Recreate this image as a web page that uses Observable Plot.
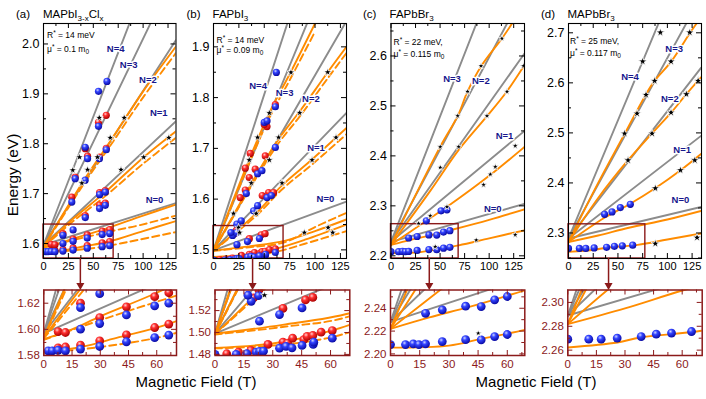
<!DOCTYPE html>
<html><head><meta charset="utf-8">
<script src="https://cdn.jsdelivr.net/npm/d3@7"></script>
<script src="https://cdn.jsdelivr.net/npm/@observablehq/plot@0.6"></script>
<style>
body{margin:0;background:#fff}
#c{position:relative;width:706px;height:399px;overflow:hidden;background:#fff}
#c svg{position:absolute;left:0;top:0}
</style></head><body>
<svg width="0" height="0" style="position:absolute"><defs>
<radialGradient id="gB" cx="0.38" cy="0.32" r="0.7"><stop offset="0" stop-color="#d0d6ff"/><stop offset="0.35" stop-color="#3344ff"/><stop offset="1" stop-color="#0808a0"/></radialGradient>
<radialGradient id="gR" cx="0.38" cy="0.32" r="0.7"><stop offset="0" stop-color="#ffd0d0"/><stop offset="0.35" stop-color="#ff3030"/><stop offset="1" stop-color="#a80000"/></radialGradient>
</defs></svg>
<div id="c"></div>
<script>
// ---------- shared ticks ----------
const topXMaj = [0,25,50,75,100,125];
const topXMin = [12.5,37.5,62.5,87.5,112.5];
const insXMaj = [0,15,30,45,60];
const insXMin = [7.5,22.5,37.5,52.5,67.5];

// ---------- panel (a) MAPbI3-xClx ----------
const aGray = [
 [[0,1.597],[133,1.681]],
 [[0,1.597],[133,1.845]],
 [[0,1.597],[133,2.008]],
 [[0,1.597],[110,2.052]],
 [[0,1.597],[90,2.06]]
];
const aSolid = [
 [[0,1.5828],[20,1.5865],[40,1.594],[66,1.604],[100,1.625],[133,1.645]],
 [[0,1.5925],[15,1.600],[30,1.610],[60,1.628],[100,1.656],[133,1.678]],
 [[0,1.594],[30,1.65],[62,1.703],[100,1.772],[133,1.825]],
 [[0,1.594],[40,1.725],[67,1.805],[100,1.905],[133,1.995]]
];
const aDashed = [
 [[0,1.582],[30,1.5865],[60,1.5935],[77,1.600],[133,1.623]],
 [[0,1.592],[30,1.607],[70,1.6256],[97,1.637],[133,1.656]],
 [[0,1.593],[30,1.645],[62,1.695],[100,1.760],[133,1.812]],
 [[0,1.593],[40,1.718],[67,1.796],[100,1.893],[133,1.982]]
];
const aRed = [[7.6,1.5858],[11.5,1.5865],[19.5,1.588],[29.7,1.5912],[43.9,1.5958],[58.9,1.6014],[66.4,1.604],
 [7.6,1.5983],[11.5,1.5976],[29.7,1.609],[43.9,1.6172],[58.9,1.625],[66.4,1.628],[19.5,1.620],
 [41.9,1.656],[56.3,1.677],[62,1.681],[28.4,1.693],[56.3,1.702],[62,1.706],[31.8,1.733],[44.2,1.775],
 [56.1,1.773],[41.9,1.790],[63,1.791],[55.2,1.843],[63,1.857]];
const aBlue = [[2.3,1.5836],[4.5,1.5836],[7.6,1.584],[11.5,1.5836],[19.5,1.5849],[29.7,1.5869],[43.9,1.5905],[58.9,1.5937],[66.4,1.5956],
 [19.5,1.6001],[29.7,1.6044],[43.9,1.611],[58.9,1.618],[66.4,1.620],[19.5,1.6166],[29.7,1.6273],
 [41.9,1.652],[56.3,1.670],[62,1.6766],[28.4,1.683],[56.3,1.698],[62,1.703],[41.8,1.727],[31.8,1.730],
 [44.2,1.770],[56.1,1.770],[41.9,1.793],[63,1.788],[55.2,1.835],[55.2,1.905],[63.7,1.925]];
const aStar = [[56,1.852],[81,1.852],[67,1.812],[125.8,1.812],[36.1,1.773],[54.2,1.773],[100.6,1.773],
 [29.4,1.747],[44.2,1.748],[77.8,1.748],[38.5,1.721]];
const aLabels = [[72.4,1.99,"N=4"],[85.5,1.957,"N=3"],[104.8,1.927,"N=2"],[115.7,1.862,"N=1"],[111.4,1.687,"N=0"]];
const aBox = [0,70.4,1.57,1.638];
const aArrow = 37;
const aYMaj = [1.6,1.7,1.8,1.9,2.0], aYMin = [1.65,1.75,1.85,1.95];
const aIYMaj = [1.58,1.60,1.62], aIYMin = [1.59,1.61];

// ---------- panel (b) FAPbI3 ----------
const bGray = [
 [[0,1.499],[131,1.595]],
 [[0,1.499],[131,1.77]],
 [[0,1.499],[131,1.951]],
 [[0,1.499],[95,1.96]],
 [[0,1.499],[75,1.96]]
];
const bSolid = [
 [[0,1.486],[30,1.490],[60,1.5015],[90,1.52],[131,1.55]],
 [[0,1.4988],[35,1.507],[70,1.5176],[100,1.537],[131,1.56]],
 [[0,1.4985],[42,1.572],[68,1.628],[97,1.678],[131,1.74]],
 [[0,1.4985],[20,1.570],[37,1.630],[64,1.718],[85,1.773],[112.5,1.85],[131,1.90]],
 [[0,1.4985],[35,1.677],[55,1.77],[76,1.85],[100,1.946]]
];
const bDashed = [
 [[0,1.4855],[30,1.488],[60,1.4955],[90,1.512],[131,1.537]],
 [[0,1.4982],[35,1.505],[70,1.515],[100,1.545],[131,1.573]],
 [[0,1.4985],[42,1.567],[68,1.62],[97,1.668],[131,1.728]],
 [[0,1.4985],[20,1.567],[37,1.625],[64,1.71],[85,1.763],[112.5,1.838],[131,1.888]],
 [[0,1.4985],[35,1.67],[55,1.76],[76,1.838],[100,1.93]]
];
const bRed = [[6.1,1.4806],[12.2,1.482],[18.6,1.4836],[27.5,1.4891],[35.3,1.4912],[37.7,1.4903],[40.3,1.4948],[46.1,1.4934],
 [47.8,1.4964],[50.8,1.4973],[55.1,1.5003],[60.9,1.5018],[35.3,1.522],[47,1.5297],[50.8,1.532],[20,1.5315],[22.8,1.5388],
 [26.3,1.603],[31.3,1.618],[54.3,1.613],[59.2,1.613],[48,1.607],[35.2,1.6426],[31.3,1.661],[41.1,1.659],[36.2,1.69],
 [51,1.685],[52.7,1.743],[50,1.747],[60.9,1.786]];
const bBlue = [[0,1.480],[11,1.480],[16.5,1.4806],[21.4,1.482],[23.1,1.4827],[25.2,1.483],[33.5,1.4857],[36.9,1.4873],[40,1.486],
 [45.2,1.4882],[51,1.4891],[51.3,1.4912],[60.9,1.4948],[23.1,1.5103],[33.5,1.5164],[45.2,1.5224],[18.8,1.5285],[22.6,1.5336],
 [17.1,1.534],[23,1.5507],[27.3,1.557],[39.5,1.577],[43.4,1.587],[52.7,1.603],[57,1.607],[32.3,1.611],[43.4,1.65],
 [47.7,1.656],[60.9,1.7018],[50,1.751],[52.7,1.754],[60.9,1.782],[61.9,1.8497]];
const bStar = [[19.7,1.5716],[42.1,1.5716],[24.7,1.544],[25.7,1.534],[89.5,1.534],[112.9,1.544],[117.4,1.534],
 [37.2,1.6316],[67.5,1.6316],[35.2,1.677],[55,1.677],[97.1,1.677],[43.4,1.7215],[64.1,1.7215],[120.7,1.7215],
 [55,1.7696],[84.9,1.77],[76.3,1.8497],[112.5,1.85]];
const bLabels = [[43.9,1.8235,"N=4"],[70,1.81,"N=3"],[95.9,1.798,"N=2"],[101,1.70,"N=1"],[110.2,1.60,"N=0"]];
const bBox = [0,69,1.483,1.547];
const bArrow = 38.5;
const bYMaj = [1.5,1.6,1.7,1.8,1.9], bYMin = [1.55,1.65,1.75,1.85];
const bIYMaj = [1.48,1.50,1.52], bIYMin = [1.49,1.51,1.53];

// ---------- panel (c) FAPbBr3 ----------
const cGray = [
 [[0,2.228],[136,2.304]],
 [[0,2.228],[136,2.45]],
 [[0,2.228],[136,2.605]],
 [[0,2.228],[125,2.69]],
 [[0,2.228],[90,2.68]]
];
const cSolid = [
 [[0,2.2055],[30,2.2073],[46,2.213],[69,2.221],[100,2.235],[136,2.251]],
 [[0,2.222],[20,2.232],[40,2.241],[60,2.251],[100,2.272],[136,2.293]],
 [[0,2.222],[30,2.262],[60,2.302],[100,2.36],[136,2.418]],
 [[0,2.222],[40,2.33],[69,2.412],[98,2.48],[118,2.529],[136,2.582]],
 [[0,2.222],[50,2.418],[68,2.48],[78,2.529],[92,2.58],[113,2.635],[125,2.67]]
];
const cDashed = [];
const cRed = [];
const cBlue = [[0,2.2082],[7.7,2.2082],[11.7,2.2088],[14.6,2.2082],[18,2.2088],[26.6,2.2108],[38.6,2.2125],[46.6,2.2123],
 [53.5,2.2152],[60,2.217],[18,2.2356],[26.6,2.2386],[38.6,2.2418],[46.6,2.2415],[53.5,2.2474],[60,2.2503],
 [36,2.27],[51,2.29],[57,2.292]];
const cStar = [[126.6,2.242],[86.9,2.2313],[45.1,2.2181],[126.6,2.42],[106.3,2.378],[101.2,2.363],[94.3,2.342],
 [57,2.298],[40,2.28],[28.1,2.2647],[50.2,2.418],[68.9,2.418],[50.2,2.3767],[113,2.635],[91.7,2.58],[78,2.5287],
 [118.2,2.5287],[67.9,2.48],[97.8,2.48],[135,2.58]];
const cLabels = [[62.2,2.553,"N=3"],[91.5,2.55,"N=2"],[115.6,2.44,"N=1"],[103.7,2.293,"N=0"]];
const cBox = [0,68.9,2.1946,2.2633];
const cArrow = 39;
const cYMaj = [2.2,2.3,2.4,2.5,2.6], cYMin = [2.25,2.35,2.45,2.55,2.65];
const cIYMaj = [2.20,2.22,2.24], cIYMin = [2.21,2.23,2.25];

// ---------- panel (d) MAPbBr3 ----------
const dGray = [
 [[0,2.289],[134,2.352]],
 [[0,2.289],[134,2.494]],
 [[0,2.289],[134,2.63]],
 [[0,2.289],[125,2.74]],
 [[0,2.289],[100,2.761]]
];
const dSolid = [
 [[0,2.2622],[26,2.2664],[38,2.2706],[70,2.2762],[100,2.287],[134,2.299]],
 [[0,2.2818],[30,2.295],[61,2.3104],[100,2.327],[134,2.344]],
 [[0,2.2818],[36,2.33],[62,2.358],[88,2.39],[113,2.425],[134,2.458]],
 [[0,2.2818],[30,2.37],[60,2.445],[84.5,2.499],[104,2.541],[119,2.577],[134,2.611]],
 [[0,2.2818],[30,2.40],[57,2.499],[78,2.576],[87,2.604],[104,2.643],[123,2.70],[130,2.72]]
];
const dDashed = [];
const dRed = [];
const dBlue = [[0,2.2692],[11,2.2692],[17.5,2.2692],[25.9,2.2701],[38.5,2.2714],[46.4,2.2734],[54.4,2.2743],[64.9,2.2756],
 [36.5,2.3373],[44,2.342],[52.4,2.3507],[62.5,2.3573]];
const dStar = [[130,2.2907],[87.8,2.2787],[87.8,2.3893],[113.2,2.4253],[127.7,2.4453],[60.2,2.4453],[84.5,2.4987],
 [56.7,2.4987],[103.7,2.5407],[119.2,2.5773],[131.1,2.604],[69.3,2.5387],[78.4,2.576],[87.1,2.604],[103.7,2.6427],
 [75,2.6427],[92.9,2.7006],[122.6,2.7006]];
const dLabels = [[62.2,2.611,"N=4"],[106.9,2.667,"N=3"],[102.5,2.567,"N=2"],[114.9,2.465,"N=1"],[113.2,2.365,"N=0"]];
const dBox = [0,77.7,2.249,2.3173];
const dArrow = 40.5;
const dYMaj = [2.3,2.4,2.5,2.6,2.7], dYMin = [2.25,2.35,2.45,2.55,2.65];
const dIYMaj = [2.26,2.28,2.30], dIYMin = [2.27,2.29];

// ---------- layout ----------
const W = 706, H = 399;
const FONT = '"Liberation Sans", Arial, Helvetica, sans-serif';
const GRAY = "#8c8c8c", ORANGE = "#ff8c00", BROWN = "#8b1a1a", NAVY = "#17178c";
const INSET_TOP = 289.5;

const panels = [
 {gray:aGray,solid:aSolid,dashed:aDashed,red:aRed,blue:aBlue,star:aStar,labels:aLabels,box:aBox,arrow:aArrow,starR:2.5,
  top:{frame:[43,175.5,23,258],x:[0,133],y:[1.57,2.041],yMaj:aYMaj,yMin:aYMin,dec:1},
  ins:{frame:[43.3,176,INSET_TOP,355],x:[0,70.5],y:[1.58,1.6301],yMaj:aIYMaj,yMin:aIYMin,dec:2}},
 {gray:bGray,solid:bSolid,dashed:bDashed,red:bRed,blue:bBlue,star:bStar,labels:bLabels,box:bBox,arrow:bArrow,starR:2.5,
  top:{frame:[213,346,23,258],x:[0,131],y:[1.483,1.946],yMaj:bYMaj,yMin:bYMin,dec:1},
  ins:{frame:[214.5,349.3,INSET_TOP,355],x:[0,70],y:[1.479,1.5388],yMaj:bIYMaj,yMin:bIYMin,dec:2}},
 {gray:cGray,solid:cSolid,dashed:cDashed,red:cRed,blue:cBlue,star:cStar,labels:cLabels,box:cBox,arrow:cArrow,starR:2.1,
  top:{frame:[390.5,524,23,258],x:[0,136],y:[2.1946,2.665],yMaj:cYMaj,yMin:cYMin,dec:1},
  ins:{frame:[390,524.3,INSET_TOP,355],x:[0,69],y:[2.1986,2.256],yMaj:cIYMaj,yMin:cIYMin,dec:2}},
 {gray:dGray,solid:dSolid,dashed:dDashed,red:dRed,blue:dBlue,star:dStar,labels:dLabels,box:dBox,arrow:dArrow,starR:2.7,
  top:{frame:[568,701,23,258],x:[0,134.5],y:[2.249,2.7186],yMaj:dYMaj,yMin:dYMin,dec:1},
  ins:{frame:[567.3,701.7,INSET_TOP,355],x:[0,70.5],y:[2.2555,2.3104],yMaj:dIYMaj,yMin:dIYMin,dec:2}}
];

const L = arr => arr.flatMap((pts,i) => pts.map(d => ({x:d[0], y:d[1], id:i})));

function build(p, which){
  const c = p[which];
  const ins = which === "ins";
  const [fx0,fx1,fy0,fy1] = c.frame;
  const fw = fx1 - fx0, fh = fy1 - fy0;
  const col = ins ? BROWN : "#000";
  const xMaj = ins ? insXMaj : topXMaj, xMin = ins ? insXMin : topXMin;
  const r = ins ? 4.4 : 3.6;
  const marks = [
    Plot.line(L(p.gray), {x:"x", y:"y", z:"id", stroke:GRAY, strokeWidth:1.9, clip:true}),
    Plot.line(L(p.dashed), {x:"x", y:"y", z:"id", stroke:ORANGE, strokeWidth:1.9, strokeDasharray:"7,4", curve:"catmull-rom", clip:true}),
    Plot.line(L(p.solid), {x:"x", y:"y", z:"id", stroke:ORANGE, strokeWidth:1.9, curve:"catmull-rom", clip:true})
  ];
  if (!ins) {
    marks.push(Plot.rect([p.box], {x1:d=>d[0], x2:d=>d[1], y1:d=>d[2], y2:d=>d[3], fill:"none", stroke:BROWN, strokeWidth:1.4}));
    marks.push(Plot.text(p.labels, {x:d=>d[0], y:d=>d[1], text:d=>d[2], fill:NAVY, fontWeight:"bold", fontSize:9.5, stroke:"white", strokeWidth:3}));
  }
  marks.push(Plot.dot(p.red, {x:d=>d[0], y:d=>d[1], r, fill:"url(#gR)", clip:true}));
  marks.push(Plot.dot(p.blue, {x:d=>d[0], y:d=>d[1], r, fill:"url(#gB)", clip:true}));
  marks.push(Plot.dot(p.star, {x:d=>d[0], y:d=>d[1], symbol:"star", r:p.starR, fill:"#000", stroke:"#fff", strokeWidth:0.8, clip:true}));
  const yT = (arr,len) => [
    Plot.tickY(arr, {y:d=>d, stroke:col, insetRight:fw-len}),
    Plot.tickY(arr, {y:d=>d, stroke:col, insetLeft:fw-len})];
  const xT = (arr,len) => [
    Plot.tickX(arr, {x:d=>d, stroke:col, insetTop:fh-len}),
    Plot.tickX(arr, {x:d=>d, stroke:col, insetBottom:fh-len})];
  marks.push(...yT(c.yMaj,5), ...yT(c.yMin,3), ...xT(xMaj,5), ...xT(xMin,3));
  marks.push(Plot.text(c.yMaj, {y:d=>d, text:d=>d.toFixed(c.dec), frameAnchor:"left", textAnchor:"end", dx:-4, fontSize: ins?11.5:12.5, fill:col}));
  marks.push(Plot.text(xMaj, {x:d=>d, text:d=>String(d), frameAnchor:"bottom", lineAnchor:"top", dy:4, fontSize: ins?11.5:11, fill:col}));
  marks.push(Plot.frame({stroke:col, strokeWidth: ins?1.5:1.1}));
  if (!ins) {
    const k = fh / (c.y[1] - c.y[0]);
    const yShaftEnd = c.y[0] - (INSET_TOP - 4 - fy1) / k;
    marks.push(Plot.ruleX([p.arrow], {x:d=>d, y1:()=>c.y[0], y2:()=>yShaftEnd, stroke:BROWN, strokeWidth:1.5}));
    marks.push(Plot.dot([p.arrow], {x:d=>d, y:()=>c.y[0], dy:(INSET_TOP - 4.7 - fy1), symbol:"triangle", rotate:180, r:3, fill:BROWN}));
  }
  return Plot.plot({
    width:W, height:H,
    marginLeft:fx0, marginRight:W-fx1, marginTop:fy0, marginBottom:H-fy1,
    x:{domain:c.x, axis:null}, y:{domain:c.y, axis:null},
    style:{background:"transparent", overflow:"visible", fontFamily:FONT},
    marks
  });
}

const root = document.getElementById("c");
for (const p of panels) { root.appendChild(build(p,"top")); root.appendChild(build(p,"ins")); }

const sub = (t) => `<tspan font-size="8" dy="3">${t}</tspan>`;
const up = `<tspan font-size="6.5" dy="-3">*</tspan>`;
function annot(x, y1, y2, R, mu){
  return `<text x="${x}" y="${y1}" font-size="8.5">R${up}<tspan dy="3"> = ${R}</tspan></text>
  <text x="${x}" y="${y2}" font-size="8.5">μ${up}<tspan dy="3"> = ${mu} m</tspan><tspan font-size="6.5" dy="2">0</tspan></text>`;
}
const ov = `<svg width="${W}" height="${H}" font-family='${FONT}' fill="#000">
<g font-size="11.5">
<text x="16" y="17.5">(a)</text>
<text x="43" y="17.5">MAPbI${sub("3-x")}<tspan dy="-3">Cl</tspan>${sub("x")}</text>
<text x="186.5" y="17.5">(b)</text>
<text x="212.5" y="17.5">FAPbI${sub("3")}</text>
<text x="363" y="17.5">(c)</text>
<text x="389.5" y="17.5">FAPbBr${sub("3")}</text>
<text x="541" y="17.5">(d)</text>
<text x="567.5" y="17.5">MAPbBr${sub("3")}</text>
</g>
${annot(47,38,52,"14 meV","0.1")}
${annot(216.5,42.5,53,"14 meV","0.09")}
${annot(393.5,45,57,"22 meV,","0.115")}
${annot(570,44,56,"25 meV,","0.117")}
<text transform="translate(18,175) rotate(-90)" text-anchor="middle" font-size="15.5">Energy (eV)</text>
<text x="196" y="387" text-anchor="middle" font-size="15">Magnetic Field (T)</text>
<text x="536" y="387" text-anchor="middle" font-size="15">Magnetic Field (T)</text>
</svg>`;
root.insertAdjacentHTML("beforeend", ov);
</script>
</body></html>
